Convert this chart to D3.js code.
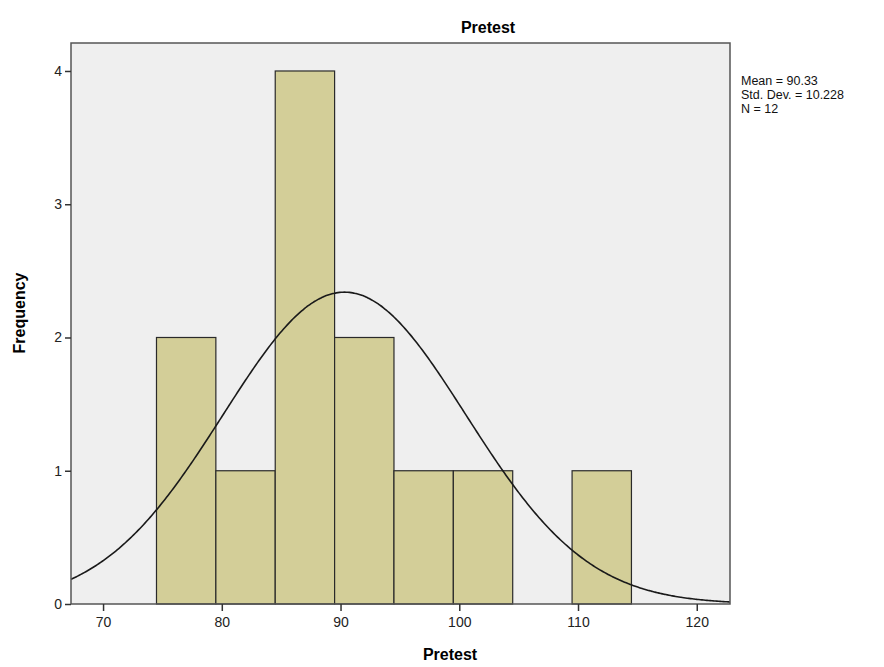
<!DOCTYPE html>
<html><head><meta charset="utf-8">
<script src="https://cdn.jsdelivr.net/npm/d3@7"></script>
<style>body{margin:0;background:#fff}</style>
</head><body>
<script>
const binStarts = [74.5, 79.5, 84.5, 89.5, 94.5, 99.5, 104.5, 109.5];
const binWidth = 5;
const frequencies = [2, 1, 4, 2, 1, 1, 0, 1];
const xTicks = [70, 80, 90, 100, 110, 120];
const yTicks = [0, 1, 2, 3, 4];
const mean = 90.33, sd = 10.228, n = 12;
const statLines = ["Mean = 90.33", "Std. Dev. = 10.228", "N = 12"];

const W = 884, H = 667;
const m = {l: 71, r: 730, t: 43, b: 604};
const svg = d3.select("body").append("svg").attr("width", W).attr("height", H)
  .style("font-family", "Arial, 'Liberation Sans', sans-serif");

const x = d3.scaleLinear().domain([67.3, 122.8]).range([m.l, m.r]);
const y = d3.scaleLinear().domain([0, 4.21]).range([m.b, m.t]);

svg.append("rect").attr("x", m.l).attr("y", m.t).attr("width", m.r - m.l).attr("height", m.b - m.t)
  .attr("fill", "#efefef");

const bins = binStarts.map((s, i) => ({x0: s, x1: s + binWidth, f: frequencies[i]})).filter(d => d.f > 0);
svg.selectAll("rect.bar").data(bins).enter().append("rect").attr("class", "bar")
  .attr("x", d => x(d.x0)).attr("width", d => x(d.x1) - x(d.x0))
  .attr("y", d => y(d.f)).attr("height", d => y(0) - y(d.f))
  .attr("fill", "#d3ce98").attr("stroke", "#2a2a2a").attr("stroke-width", 1.2);

const pts = d3.range(0, 401).map(i => {
  const v = 67.3 + (122.8 - 67.3) * i / 400;
  const dens = n * binWidth / (sd * Math.sqrt(2 * Math.PI)) * Math.exp(-0.5 * ((v - mean) / sd) ** 2);
  return [v, dens];
});
svg.append("path").datum(pts)
  .attr("d", d3.line().x(d => x(d[0])).y(d => y(d[1])).curve(d3.curveBasis))
  .attr("fill", "none").attr("stroke", "#1a1a1a").attr("stroke-width", 1.6);

// frame
svg.append("rect").attr("x", m.l).attr("y", m.t).attr("width", m.r - m.l).attr("height", m.b - m.t)
  .attr("fill", "none").attr("stroke", "#555").attr("stroke-width", 1.5);

const xAxis = svg.append("g").attr("transform", `translate(0,${m.b})`)
  .call(d3.axisBottom(x).tickValues(xTicks).tickSize(7).tickPadding(6).tickFormat(d3.format("d")));
xAxis.select(".domain").remove();
xAxis.selectAll("line").attr("stroke", "#333").attr("stroke-width", 1.5);
xAxis.selectAll("text").attr("font-size", 14).attr("fill", "#222").attr("font-family", "Arial, 'Liberation Sans', sans-serif");

const yAxis = svg.append("g").attr("transform", `translate(${m.l},0)`)
  .call(d3.axisLeft(y).tickValues(yTicks).tickSize(6).tickPadding(3).tickFormat(d3.format("d")));
yAxis.select(".domain").remove();
yAxis.selectAll("line").attr("stroke", "#333").attr("stroke-width", 1.5);
yAxis.selectAll("text").attr("font-size", 14).attr("fill", "#222").attr("font-family", "Arial, 'Liberation Sans', sans-serif");

svg.append("text").attr("x", 488).attr("y", 33).attr("text-anchor", "middle")
  .attr("font-size", 16).attr("font-weight", "bold").text("Pretest");
svg.append("text").attr("x", 450).attr("y", 660).attr("text-anchor", "middle")
  .attr("font-size", 16).attr("font-weight", "bold").text("Pretest");
svg.append("text").attr("transform", "translate(25,313) rotate(-90)").attr("text-anchor", "middle")
  .attr("font-size", 16).attr("font-weight", "bold").text("Frequency");

svg.append("g").selectAll("text").data(statLines).enter().append("text")
  .attr("x", 741).attr("y", (d, i) => 85 + i * 14).attr("font-size", 12.5).attr("fill", "#111")
  .text(d => d);
</script>
</body></html>
